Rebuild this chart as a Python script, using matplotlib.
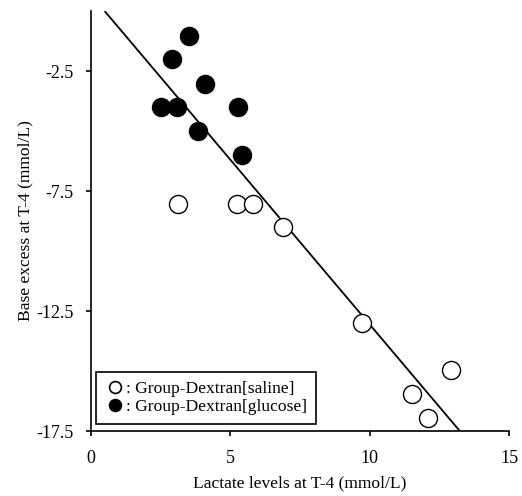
import matplotlib
matplotlib.use("Agg")
import matplotlib.pyplot as plt
from matplotlib.lines import Line2D

plt.rcParams['font.family'] = ['Liberation Serif', 'DejaVu Serif']

# Group-Dextran[saline] (open circles)
saline_x = [3.11, 5.23, 5.82, 6.90, 9.71, 12.91, 11.53, 12.09]
saline_y = [-8.04, -8.04, -8.04, -8.99, -13.01, -14.96, -15.96, -16.97]

# Group-Dextran[glucose] (filled circles)
glucose_x = [3.50, 2.92, 4.10, 2.50, 3.07, 5.28, 3.83, 5.41]
glucose_y = [-1.04, -2.01, -3.05, -3.99, -3.99, -3.99, -5.00, -6.00]

# regression line
fit_intercept = 0.67
fit_slope = -1.373
fit_x = [0.51, 13.23]

x_ticks = [0, 5, 10, 15]
y_ticks = [-2.5, -7.5, -12.5, -17.5]

fig = plt.figure(figsize=(5.22, 4.96), dpi=100)
ax = fig.add_axes([91 / 522, 65 / 496, 418 / 522, 420 / 496])

fit_y = [fit_intercept + fit_slope * v for v in fit_x]
ax.plot(fit_x, fit_y, color='black', lw=1.3, zorder=2)

ax.plot(saline_x, saline_y, 'o', ms=13, mfc='white', mec='black', mew=1.0,
        ls='none', zorder=3)
ax.plot(glucose_x, glucose_y, 'o', ms=13, mfc='black', mec='black', mew=1.0,
        ls='none', zorder=3)

ax.set_xlim(0, 15)
ax.set_ylim(-17.5, 0)
ax.set_xticks(x_ticks)
ax.set_xticklabels([str(v) for v in x_ticks])
ax.set_yticks(y_ticks)
ax.set_yticklabels([str(v) for v in y_ticks])

for side in ['top', 'right']:
    ax.spines[side].set_visible(False)
for side in ['left', 'bottom']:
    ax.spines[side].set_linewidth(1.2)
ax.tick_params(direction='out', length=3.5, width=1.2, labelsize=13, pad=9)
ax.tick_params(axis='x', pad=10)

ax.set_xlabel('Lactate levels at T-4 (mmol/L)', fontsize=12.6, labelpad=6.5)
ax.set_ylabel('Base excess at T-4 (mmol/L)', fontsize=12.6, labelpad=2)

handles = [
    Line2D([], [], marker='o', ls='none', ms=8.5, mfc='white', mec='black', mew=1.2),
    Line2D([], [], marker='o', ls='none', ms=8.5, mfc='black', mec='black', mew=1.2),
]
leg = ax.legend(handles, [': Group-Dextran[saline]', ': Group-Dextran[glucose]'],
                loc='lower left', bbox_to_anchor=(0.012, 0.017), fontsize=12.6,
                handlelength=1.2, handletextpad=0.0, borderpad=0.5,
                labelspacing=0.1, fancybox=False, framealpha=1,
                edgecolor='black', borderaxespad=0)
leg.get_frame().set_linewidth(1.2)

fig.savefig('out.png', dpi=100)
